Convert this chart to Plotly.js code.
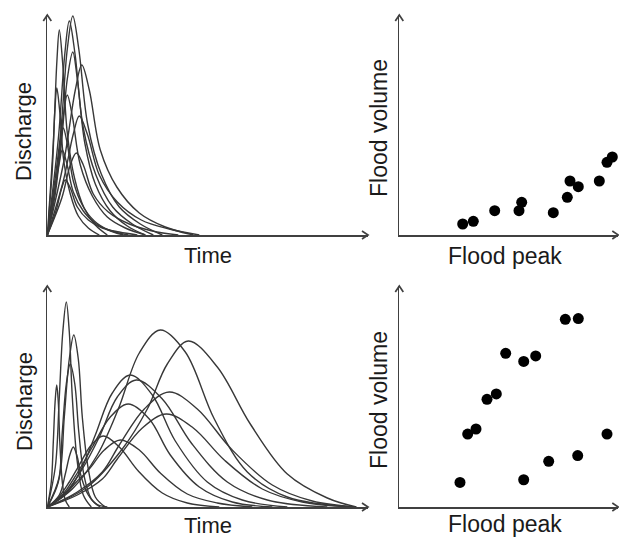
<!DOCTYPE html>
<html><head><meta charset="utf-8">
<script src="https://cdn.plot.ly/plotly-3.0.1.min.js"></script>
<style>html,body{margin:0;padding:0;background:#fff}#chart{width:619px;height:537px}</style>
</head><body><div id="chart"></div>
<script>
// ---- Data (units are arbitrary, origin at axes corner) ----
// Top-left: hydrographs of event type 1 (sharp, short floods)
const topCurvesX = [
  [0,6,9.6,12,15.2,20,27.2,36.8,48,60],
  [0,11,17.6,22,27.6,36,48.6,65.4,85,106],
  [0,13,20,25.5,31.5,40.5,54,72,93,115],
  [0,13,20,25.5,30,37.5,48,63,80,98],
  [0,17,28,34.5,42,53,69.5,92,118,146],
  [0,5,7.6,9.5,12.3,16.5,23,31,41,52],
  [0,8,13,16,20,26,35,47,61,76],
  [0,16,26,32,40,52,70,94,122,152],
  [0,14.5,23,29,36,46,61,82,105,131],
  [0,7.5,12,15,19.4,26,36,49,64.5,81],
  [0,10,16,20,25,33,45,60,78,98],
  [0,9,14.4,18,23,30,41,55,72,90]
];
const topCurvesY = [
  [0,92,174,205,174,102,57,27,10,0],
  [0,96,182,214,182,107,60,28,11,0],
  [0,99,186,219,186,110,61,28,11,0],
  [0,82,156,183,156,92,51,24,9,0],
  [0,76,145,170,145,85,48,22,8,0],
  [0,66,125,147,125,74,41,19,7,0],
  [0,48,91,107,91,54,30,14,5,0],
  [0,54,101,119,101,60,33,15,6,0],
  [0,37,70,82,70,41,23,11,4,0],
  [0,38,72,85,72,43,24,11,4,0],
  [0,63,119,140,119,70,39,18,7,0],
  [0,25,47,55,47,28,15,7,3,0]
];
// Bottom-left: hydrographs of mixed event types
const botCurvesX = [
  [0,8,12,15.5,19,22,25,30,36,44],
  [0,12,17,22,26.5,31,35,41,48,58],
  [0,11,15,19,23,27.5,31.5,37,44,53],
  [0,4,6,7.8,9.4,11,12.5,15,18,22],
  [0,12,18,22.5,26,30,34,41,49,60],
  [0,25,50,71,92,113,138,167,200,240,306],
  [0,40,75,100,120,141,170,203,240,280,309],
  [0,20,35,48,65,83,105,128,160,195,240],
  [0,18,35,52,70,89,115,144,180,220,280],
  [0,30,55,72,97,122,150,184,225,265,309],
  [0,15,30,45,63,81,102,123,152,185,225],
  [0,30,55,70,95,119,146,177,215,255,305],
  [0,10,22,32,44,56,72,91,115,140,172],
  [0,15,30,42,57,73,92,113,140,170,205]
];
const botCurvesY = [
  [0,40,110,175,205,175,110,45,12,0],
  [0,30,90,148,172,148,90,38,10,0],
  [0,25,75,123,143,123,75,30,8,0],
  [0,25,65,105,122,105,65,25,7,0],
  [0,12,33,52,60,50,30,12,3,0],
  [0,18,52,98,154,177,155,88,35,10,0],
  [0,20,58,98,143,166,140,83,33,9,0],
  [0,15,40,72,114,132,112,66,25,7,0],
  [0,14,38,70,110,127,108,64,25,7,0],
  [0,15,35,62,98,115,98,58,22,6,0],
  [0,12,34,60,90,103,88,52,20,5,0],
  [0,12,28,48,79,93,79,47,18,5,0],
  [0,8,25,42,62,71,60,36,14,4,0],
  [0,10,26,38,57,67,57,34,13,4,0]
];
// Top-right scatter: flood peak vs flood volume
const topPeak   = [63.4,74,95.4,119.7,122.4,154,168,170.7,179,200,207.7,213];
const topVolume = [11,13.7,24.3,24.3,32.7,22.3,37.7,54,48.3,54,72.7,78];
// Bottom-right scatter
const botPeak   = [60.7,68.4,76.7,87.7,97,106.4,124.4,136.4,124.4,149.4,166,179,178.4,207.7];
const botVolume = [24.3,72.3,77.3,106.7,112,152.3,144.3,149.7,27,45.3,186,186.7,51,72.3];
// Labels
const labDischarge = "Discharge";
const labTime = "Time";
const labVolume = "Flood volume";
const labPeak = "Flood peak";

// ---- Layout helpers ----
const W = 619, H = 537;
const PX = x => x / W;
const PY = y => 1 - y / H;
const lineCol = '#383838';
const axisCol = '#404040';

const traces = [];
topCurvesX.forEach((xs, i) => traces.push({
  x: xs, y: topCurvesY[i], xaxis: 'x', yaxis: 'y', type: 'scatter', mode: 'lines',
  line: {color: lineCol, width: 1.4, shape: 'spline', smoothing: 1}, hoverinfo: 'skip'
}));
botCurvesX.forEach((xs, i) => traces.push({
  x: xs, y: botCurvesY[i], xaxis: 'x3', yaxis: 'y3', type: 'scatter', mode: 'lines',
  line: {color: lineCol, width: 1.4, shape: 'spline', smoothing: 1}, hoverinfo: 'skip'
}));
traces.push({x: topPeak, y: topVolume, xaxis: 'x2', yaxis: 'y2', type: 'scatter', mode: 'markers',
  marker: {color: '#000', size: 11}, cliponaxis: false});
traces.push({x: botPeak, y: botVolume, xaxis: 'x4', yaxis: 'y4', type: 'scatter', mode: 'markers',
  marker: {color: '#000', size: 11}, cliponaxis: false});

function ax(domain, range, anchor) {
  return {domain: domain, range: range, anchor: anchor, showline: true, linecolor: axisCol, linewidth: 1.7,
    showgrid: false, zeroline: false, showticklabels: false, ticks: '', fixedrange: true};
}
const L = [47.3, 368], R = [399.3, 618.3];
const T = [15, 235], B = [286, 507];
const dx = a => [PX(a[0]), PX(a[1])];
const dy = a => [PY(a[1]), PY(a[0])];

// arrowheads (chevrons) at the axis ends
function chevUp(x, y) { return `M${PX(x-4)},${PY(y+6)} L${PX(x)},${PY(y)} L${PX(x+4)},${PY(y+6)}`; }
function chevRight(x, y) { return `M${PX(x-6)},${PY(y-4)} L${PX(x)},${PY(y)} L${PX(x-6)},${PY(y+4)}`; }
const shapes = [];
[[L,T],[R,T],[L,B],[R,B]].forEach(([xx,yy]) => {
  shapes.push({type:'path', xref:'paper', yref:'paper', path: chevUp(xx[0], yy[0]), line:{color:axisCol, width:1.7}});
  shapes.push({type:'path', xref:'paper', yref:'paper', path: chevRight(xx[1], yy[1]), line:{color:axisCol, width:1.7}});
});

function lab(text, x, y, rot, size) {
  return {text: text, xref: 'paper', yref: 'paper', x: PX(x), y: PY(y), showarrow: false,
    xanchor: 'center', yanchor: 'middle', textangle: rot || 0,
    font: {family: 'Liberation Sans, Arial, sans-serif', size: size, color: '#1a1a1a'}};
}
const annotations = [
  lab(labDischarge, 24, 132, -90, 22), lab(labTime, 208, 256, 0, 22),
  lab(labVolume, 379, 128, -90, 23), lab(labPeak, 505, 256, 0, 23),
  lab(labDischarge, 24, 402, -90, 22), lab(labTime, 208, 525, 0, 22),
  lab(labVolume, 379, 400, -90, 23), lab(labPeak, 505, 524, 0, 23)
];

const layout = {
  width: W, height: H, margin: {l: 0, r: 0, t: 0, b: 0},
  paper_bgcolor: '#fff', plot_bgcolor: '#fff', showlegend: false,
  xaxis: ax(dx(L), [0, 320.7], 'y'),  yaxis: ax(dy(T), [0, 220], 'x'),
  xaxis2: ax(dx(R), [0, 219], 'y2'),  yaxis2: ax(dy(T), [0, 220], 'x2'),
  xaxis3: ax(dx(L), [0, 320.7], 'y3'), yaxis3: ax(dy(B), [0, 221], 'x3'),
  xaxis4: ax(dx(R), [0, 219], 'y4'),  yaxis4: ax(dy(B), [0, 219], 'x4'),
  shapes: shapes, annotations: annotations
};
Plotly.newPlot('chart', traces, layout, {displayModeBar: false, staticPlot: true});
</script></body></html>
